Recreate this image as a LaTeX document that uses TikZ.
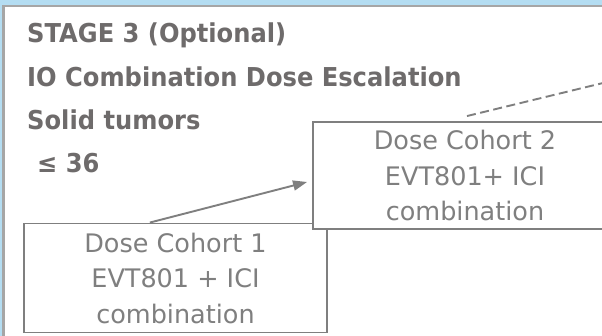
\documentclass[tikz,border=0pt]{standalone}
\usepackage{fontspec}
\setmainfont{DejaVu Sans}[FakeStretch=0.93]
\newfontfamily\boxfont{DejaVu Sans}
\usetikzlibrary{arrows.meta,calc}
\definecolor{bgblue}{HTML}{B4DDF2}
\definecolor{framegray}{HTML}{A6A6A6}
\definecolor{titlegray}{HTML}{6E6B6B}
\definecolor{boxgray}{HTML}{7F7F7F}
\tikzset{
  titletext/.style={anchor=base west, inner sep=0pt, text=titlegray, font=\bfseries\fontsize{26}{30}\selectfont},
  cohort/.style={draw=boxgray, line width=1.9pt, fill=white, text=boxgray, align=center,
    inner sep=0pt, font=\boxfont\fontsize{25.5}{35.5}\selectfont},
  link/.style={draw=boxgray, line width=1.9pt},
}
\begin{document}
\begin{tikzpicture}[x=1pt,y=-1pt]
\useasboundingbox (0,0) rectangle (602,336);
\clip (0,0) rectangle (602,336);
\fill[bgblue] (0,0) rectangle (602,336);
\draw[framegray, line width=2.4pt, fill=white] (3.5,5.8) rectangle (640,360);
\node[titletext] (t1) at (27,43) {STAGE 3 (Optional)};
\node[titletext] (t2) at (27,87) {IO Combination Dose Escalation};
\node[titletext] (t3) at (27,130) {Solid tumors};
\node[titletext] (t4) at (37,173) {≤ 36};
\node[cohort, minimum width=303pt, minimum height=109pt] (c1) at (175.5,278)
  {Dose Cohort 1\\EVT801 + ICI\\combination};
\node[cohort, minimum width=304pt, minimum height=107pt] (c2) at (465,175.5)
  {Dose Cohort 2\\EVT801+ ICI\\combination};
\coordinate (dashend) at (640,74);
\draw[link, -{Triangle[length=14pt,width=10pt]}]
  ($(c1.north west)!0.416!(c1.north east)$) -- ([xshift=-5pt,yshift=-6.5pt]c2.west);
\draw[link, dash pattern=on 9pt off 4.5pt] ([xshift=2pt,yshift=5pt]c2.north) -- (dashend);
\end{tikzpicture}
\end{document}
